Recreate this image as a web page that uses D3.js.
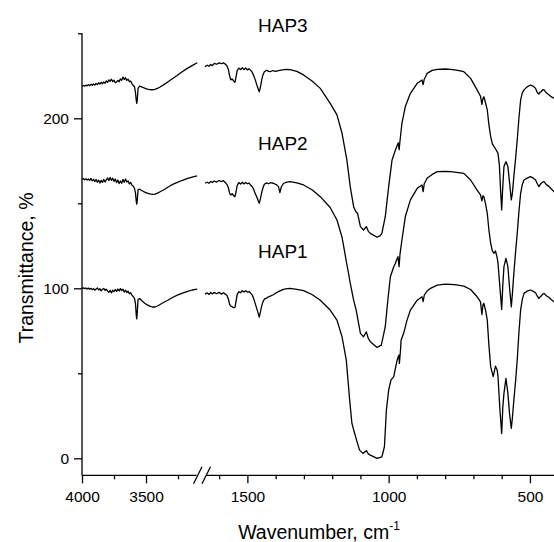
<!doctype html>
<html lang="en">
<head>
<meta charset="utf-8">
<title>HAP FTIR</title>
<script src="https://cdn.jsdelivr.net/npm/d3@7/dist/d3.min.js"></script>
<style>
  body { margin: 0; background: #fff; }
  svg { display: block; font-family: Arial, "Liberation Sans", sans-serif; }
  .axis text { font-size: 15.5px; fill: #000; }
  .axis line { stroke: #000; stroke-width: 1.3; }
</style>
</head>
<body>
<svg id="chart"></svg>
<script>
// ---- data: [wavenumber cm-1, transmittance %] ----
var hap1Left = [[4000,100],[3990,100.3],[3980,99.8],[3970,100.2],[3960,99.6],[3950,100.1],[3940,99.5],[3930,100],[3920,99.2],[3910,99.8],[3900,98.9],[3890,99.6],[3880,100.2],[3870,99],[3860,99.7],[3850,98.5],[3840,99.4],[3830,99.9],[3820,98.7],[3810,99.5],[3800,98.4],[3790,97.6],[3780,98.8],[3770,97.3],[3760,98.9],[3750,98.1],[3740,99.3],[3730,98.2],[3720,99.6],[3710,98.4],[3700,99.8],[3690,98.6],[3680,99.5],[3670,97.8],[3660,98.9],[3650,97.5],[3640,98.3],[3630,96.8],[3620,97.4],[3610,95.9],[3600,95.2],[3590,94],[3582,91],[3576,84],[3572,82],[3568,86],[3562,93.5],[3550,94],[3530,92.5],[3510,91.2],[3490,90.2],[3470,89.5],[3450,89],[3430,89],[3410,89.6],[3390,90.5],[3360,91.8],[3330,93],[3300,94.3],[3260,95.8],[3220,97],[3180,98],[3140,99],[3100,99.5]];
var hap2Left = [[4000,164.2],[3990,164.5],[3980,163.9],[3970,164.4],[3960,163.7],[3950,164.3],[3940,163.5],[3930,164.6],[3920,163.2],[3910,164.1],[3900,162.8],[3890,164],[3880,162.4],[3870,163.6],[3860,161.9],[3850,163.5],[3840,162.3],[3830,164],[3820,162.6],[3810,163.8],[3800,164.9],[3790,163.4],[3780,165.2],[3770,163.5],[3760,164.8],[3750,162.9],[3740,164.3],[3730,162.2],[3720,163.6],[3710,161.6],[3700,163.1],[3690,161.8],[3680,164],[3670,162.4],[3660,164.3],[3650,162.5],[3640,163.2],[3630,161.4],[3620,162.3],[3610,160.6],[3600,160.2],[3590,158.8],[3582,156],[3576,151],[3572,149.5],[3568,152],[3562,158],[3550,158.3],[3530,157.4],[3510,156.6],[3490,156],[3470,155.5],[3450,155.2],[3430,155.4],[3410,156],[3390,156.8],[3360,158],[3330,159.4],[3300,160.8],[3260,162.2],[3220,163.4],[3180,164.5],[3140,165.4],[3100,166.2]];
var hap3Left = [[4000,219],[3990,219.3],[3980,218.9],[3970,219.5],[3960,219.1],[3950,219.8],[3940,219.2],[3930,220],[3920,219.4],[3910,220.2],[3900,219.6],[3890,220.5],[3880,219.8],[3870,220.9],[3860,220.1],[3850,221.2],[3840,220.3],[3830,221.4],[3820,220.6],[3810,222],[3800,221.2],[3790,222.6],[3780,221.8],[3770,223],[3760,221.6],[3750,222.4],[3740,220.9],[3730,221.4],[3720,222.3],[3710,221.5],[3700,223.2],[3690,222.4],[3680,224.2],[3670,222.8],[3660,223.9],[3650,222.3],[3640,223],[3630,221.6],[3620,221.9],[3610,220.4],[3600,219.4],[3590,218.6],[3582,215],[3576,210.5],[3572,208.8],[3568,211],[3562,217.5],[3550,219],[3530,218.3],[3510,217.7],[3490,217.2],[3470,216.9],[3450,216.8],[3430,217],[3410,217.6],[3390,218.4],[3360,219.8],[3330,221.4],[3300,223],[3260,225],[3220,227.2],[3180,229.2],[3140,231],[3100,232.7]];

var hap1Right = [[1650,96.6],[1642,97.3],[1636,96.4],[1630,97.5],[1624,96.7],[1617,97.6],[1609,96.8],[1600,97.6],[1592,96.6],[1585,97.3],[1578,96.6],[1572,95.8],[1567,93.6],[1563,90.6],[1559,89.6],[1554,89.2],[1549,88.6],[1544,88.8],[1540,92.5],[1536,96.4],[1530,98],[1524,97.4],[1518,98.6],[1512,97.8],[1506,98.6],[1500,97.8],[1494,98.1],[1488,97],[1482,95.8],[1477,93.6],[1472,90.8],[1467,88.2],[1462,85.4],[1458,83],[1454,86],[1450,89.2],[1445,92],[1440,93.6],[1432,94.2],[1425,95],[1419,95.4],[1408,96.2],[1398,97.4],[1390,98],[1375,99.2],[1360,99.8],[1349,100],[1325,99.4],[1301,98.6],[1270,96.2],[1242,93],[1207,87.2],[1183,81.3],[1165,71.5],[1150,57.8],[1138,34.2],[1130,20.5],[1122,15.6],[1112,9.8],[1103,4.8],[1091,2.9],[1079,4.5],[1072,2.6],[1065,1.9],[1041,0],[1024,0.9],[1015,6.8],[1008,28.4],[1000,40.1],[992,46],[982,48],[976,53],[970,57.8],[964,60.7],[962,55.8],[958,64],[956,69.5],[947,73.5],[935,81.3],[923,87.2],[899,93],[882,95],[878,92.2],[874,96],[864,98.4],[852,100],[828,101.9],[800,102.4],[781,102.3],[760,102],[734,101.3],[710,99.3],[687,95],[675,92],[670,84.6],[666,90.5],[663,91.1],[657,87],[651,81.3],[645,66],[639,53.9],[630,48],[622,54.2],[616,52],[613,48],[606,28],[600,14.6],[596,30],[592,38.2],[585,47],[578,38.2],[572,26],[566,17.6],[562,24],[557,34.2],[551,45],[545,57.8],[539,74],[533,87.2],[527,93.5],[521,97],[510,98.3],[498,99],[488,98.2],[480,97.4],[474,95.4],[468,94],[464,95],[460,95.4],[455,96.5],[450,97],[442,95.6],[432,94.6],[424,93.3],[415,92.1],[408,92.6],[400,92.3]];
var hap2Right = [[1650,161.8],[1642,162.4],[1636,161.8],[1630,162.9],[1624,162.2],[1617,163.1],[1609,162.5],[1600,163.4],[1592,162.8],[1585,163.3],[1578,162.3],[1572,161],[1567,159],[1563,156],[1559,154.9],[1554,155.6],[1549,154.6],[1544,153.9],[1540,156.8],[1536,160.5],[1530,162.2],[1524,161.3],[1518,162.4],[1512,161.4],[1506,162.3],[1500,161.5],[1494,161.9],[1488,160.6],[1482,159.6],[1477,157.8],[1472,155.6],[1467,153.9],[1462,151.6],[1458,150],[1454,152.6],[1450,155.8],[1445,159],[1440,161.2],[1432,162],[1425,161.5],[1419,162.1],[1408,161.8],[1398,161],[1390,159.8],[1385,156.3],[1380,159.6],[1372,161.8],[1360,162.5],[1349,162.7],[1325,162],[1301,160.8],[1270,157.8],[1242,153.9],[1207,147.5],[1183,140.2],[1165,130],[1159,124.5],[1148,114],[1142,108.8],[1136,103],[1124,93],[1115,87.2],[1100,73.5],[1089,71.5],[1079,74.4],[1072,70.5],[1065,68.6],[1041,65.2],[1026,66.6],[1012,77.4],[1003,93],[994,106.8],[982,112.7],[976,114.7],[970,117.5],[967,118.6],[963,112.7],[960,120],[953,128.4],[941,142.2],[923,152],[899,158.8],[882,160.8],[878,156.9],[874,161.5],[864,164.7],[846,167],[828,168.6],[800,168.8],[781,168.6],[760,168.2],[734,167.6],[710,163.7],[687,157.8],[675,155],[670,151.5],[666,154.5],[663,153.9],[657,149.5],[651,144.1],[645,134],[639,126.5],[633,122],[627,120.6],[622,122],[616,118],[613,114.7],[606,100],[600,87.6],[596,102],[592,112.7],[585,117.6],[578,112.7],[572,100],[566,89.1],[562,97],[557,108.8],[551,121],[545,132.3],[539,145],[533,155.9],[527,161],[521,163.7],[510,164.8],[498,165.7],[488,164.8],[480,163.7],[474,161.5],[468,159.8],[464,161],[460,161.8],[455,162.4],[450,162.7],[442,161],[432,159.8],[424,158.4],[415,156.9],[408,157.6],[400,157.2]];
var hap3Right = [[1650,230.4],[1642,231.2],[1636,230.6],[1630,231.7],[1624,231],[1617,232.3],[1609,231.8],[1600,232.6],[1592,232.1],[1585,232.6],[1578,231.9],[1572,230.8],[1567,228.6],[1563,225],[1559,222.6],[1554,223.2],[1549,222],[1544,221.2],[1540,224.5],[1536,228.2],[1530,229.5],[1524,228.7],[1518,229.8],[1512,228.6],[1506,229.6],[1500,228.5],[1494,229.1],[1488,228.2],[1482,226.8],[1477,224.8],[1472,222.6],[1467,219.8],[1462,217.4],[1458,215.6],[1454,218.2],[1450,222],[1445,225.5],[1440,227.4],[1432,228.3],[1425,227.6],[1419,227.4],[1410,228.1],[1400,227.6],[1390,228],[1380,228.4],[1365,228.8],[1349,228.6],[1325,227.6],[1301,225.5],[1270,221.8],[1242,217.6],[1207,208.8],[1183,202],[1165,191.2],[1148,175.5],[1136,159.8],[1124,148],[1116,145],[1110,144.1],[1100,136.3],[1089,134.3],[1079,136.3],[1072,133.5],[1065,132.3],[1041,130],[1030,131],[1024,132.3],[1012,142.1],[1000,159.8],[988,175.5],[976,181.4],[970,184],[966,185.6],[963,181.5],[960,186.5],[953,197.1],[941,206.9],[923,214.7],[899,220.6],[882,222.5],[878,219.8],[874,223],[864,226.4],[846,228.2],[828,228.8],[800,229],[781,228.8],[760,228.3],[734,227.4],[710,223.5],[687,216.7],[675,213],[670,208.2],[666,211.8],[663,212.7],[657,209],[651,204.9],[645,196],[639,189.2],[633,185],[627,183.3],[620,181.5],[613,179.4],[608,172],[604,158],[600,146.1],[597,157],[592,171.6],[585,174.5],[578,171.6],[572,162],[566,152],[562,156],[557,165.7],[551,176],[545,187.2],[539,200],[533,210.8],[527,215],[521,216.7],[510,218.5],[498,219.6],[488,218.8],[480,217.6],[474,215.2],[468,214.3],[464,215.4],[460,215.7],[455,216.8],[450,216.7],[442,215],[432,213.7],[424,212.6],[415,211.8],[408,212.4],[400,212]];

var seriesNames = ["HAP1", "HAP2", "HAP3"];
var labelValues = [118, 182, 250];   // label baselines in data units (left x at 1660 cm-1 on right segment)
var xLeftMajor = [4000, 3500], xLeftMinor = [3750, 3250];
var xRightMajor = [1500, 1000, 500], xRightMinor = [1600, 1400, 1300, 1200, 1100, 900, 800, 700, 600, 400];
var yMajor = [0, 100, 200], yMinor = [50, 150, 250];

var W = 554, H = 542;
var svg = d3.select("#chart").attr("width", W).attr("height", H);

var xL = d3.scaleLinear().domain([4000, 3100]).range([82, 197.2]);
var xR = d3.scaleLinear().domain([1650, 400]).range([205, 558.2]);
var y = d3.scaleLinear().domain([-10, 250]).range([475.3, 33.3]);
var axisY = y(-10);

// spectra
function drawLine(data, xs) {
  svg.append("path")
    .datum(data)
    .attr("fill", "none")
    .attr("stroke", "#000")
    .attr("stroke-width", 1.3)
    .attr("stroke-linejoin", "round")
    .attr("d", d3.line().x(function(d){ return xs(d[0]); }).y(function(d){ return y(d[1]); }));
}
[[hap1Left, hap1Right], [hap2Left, hap2Right], [hap3Left, hap3Right]].forEach(function(p){
  drawLine(p[0], xL);
  drawLine(p[1], xR);
});

// series labels
svg.selectAll("text.lab")
  .data(seriesNames)
  .enter().append("text")
  .attr("class", "lab")
  .attr("x", 258)
  .attr("y", function(d, i){ return [258, 150, 32][i]; })
  .attr("font-size", 19)
  .text(function(d){ return d; });

// y axis
var gy = svg.append("g").attr("class", "axis").attr("transform", "translate(82,0)");
gy.call(d3.axisLeft(y).tickValues(yMajor).tickSize(8).tickPadding(5));
gy.append("g").call(d3.axisLeft(y).tickValues(yMinor).tickSize(4).tickFormat(""));
gy.selectAll(".domain").remove();
gy.append("line").attr("x1", 0).attr("x2", 0).attr("y1", y(250)).attr("y2", axisY)
  .attr("stroke", "#000").attr("stroke-width", 1.3);

// x axis, two segments
var gx = svg.append("g").attr("class", "axis").attr("transform", "translate(0," + axisY + ")");
gx.append("g").call(d3.axisBottom(xL).tickValues(xLeftMajor).tickSize(8).tickPadding(8).tickFormat(d3.format("d")));
gx.append("g").call(d3.axisBottom(xL).tickValues(xLeftMinor).tickSize(4).tickFormat(""));
gx.append("g").call(d3.axisBottom(xR).tickValues(xRightMajor).tickSize(8).tickPadding(8).tickFormat(d3.format("d")));
gx.append("g").call(d3.axisBottom(xR).tickValues(xRightMinor).tickSize(4).tickFormat(""));
gx.selectAll(".domain").remove();
gx.append("line").attr("x1", 82).attr("x2", 196.5).attr("y1", 0).attr("y2", 0)
  .attr("stroke", "#000").attr("stroke-width", 1.3);
gx.append("line").attr("x1", 206).attr("x2", W).attr("y1", 0).attr("y2", 0)
  .attr("stroke", "#000").attr("stroke-width", 1.3);
[193.5, 202].forEach(function(bx){
  gx.append("line").attr("x1", bx).attr("y1", 8.5).attr("x2", bx + 8.5).attr("y2", -8.5)
    .attr("stroke", "#000").attr("stroke-width", 1.3);
});

// axis titles
var xt = svg.append("text").attr("x", 319).attr("y", 539).attr("text-anchor", "middle").attr("font-size", 19.5);
xt.append("tspan").text("Wavenumber, cm");
xt.append("tspan").attr("font-size", 12).attr("dy", -9).text("-1");

svg.append("text")
  .attr("transform", "translate(33,268) rotate(-90)")
  .attr("text-anchor", "middle")
  .attr("font-size", 19.5)
  .text("Transmittance, %");
</script>
</body>
</html>
